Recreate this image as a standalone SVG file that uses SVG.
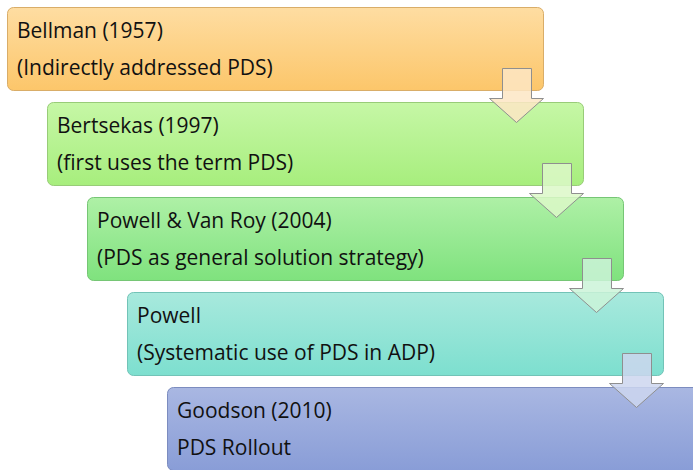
<svg xmlns="http://www.w3.org/2000/svg" width="693" height="470" viewBox="0 0 693 470">
<defs>
<linearGradient id="g1" x1="0" y1="0" x2="0" y2="1"><stop offset="0" stop-color="#fedda2"/><stop offset="1" stop-color="#fcc66a"/></linearGradient>
<linearGradient id="g2" x1="0" y1="0" x2="0" y2="1"><stop offset="0" stop-color="#c6f7a6"/><stop offset="1" stop-color="#a7ee7d"/></linearGradient>
<linearGradient id="g3" x1="0" y1="0" x2="0" y2="1"><stop offset="0" stop-color="#aef0a6"/><stop offset="1" stop-color="#7fe27e"/></linearGradient>
<linearGradient id="g4" x1="0" y1="0" x2="0" y2="1"><stop offset="0" stop-color="#a8e9dd"/><stop offset="1" stop-color="#7ddfcf"/></linearGradient>
<linearGradient id="g5" x1="0" y1="0" x2="0" y2="1"><stop offset="0" stop-color="#a9b7e2"/><stop offset="1" stop-color="#899dd7"/></linearGradient>
</defs>
<style>
.box{stroke-width:1}
text{font-family:"Open Sans","Noto Sans",sans-serif;font-size:21px;fill:#111}
.arr{stroke:#8f8f8f;stroke-width:1;fill-opacity:0.85}
</style>
<rect width="693" height="470" fill="#fff"/>
<g id="n1"><rect class="box" x="7.5" y="7.5" width="536" height="83" rx="6" fill="url(#g1)" stroke="#d9ad68"/><text x="17" y="38">Bellman (1957)</text><text x="17" y="75">(Indirectly addressed PDS)</text></g>
<g id="n2"><rect class="box" x="47.5" y="102.5" width="536" height="83" rx="6" fill="url(#g2)" stroke="#98cc78"/><text x="57" y="133">Bertsekas (1997)</text><text x="57" y="170">(first uses the term PDS)</text></g>
<g id="n3"><rect class="box" x="87.5" y="197.5" width="536" height="83" rx="6" fill="url(#g3)" stroke="#76c675"/><text x="97" y="228">Powell &amp; Van Roy (2004)</text><text x="97" y="265">(PDS as general solution strategy)</text></g>
<g id="n4"><rect class="box" x="127.5" y="292.5" width="536" height="83" rx="6" fill="url(#g4)" stroke="#72c3b7"/><text x="137" y="323">Powell</text><text x="137" y="360">(Systematic use of PDS in ADP)</text></g>
<g id="n5"><rect class="box" x="167.5" y="387.5" width="536" height="83" rx="6" fill="url(#g5)" stroke="#7c8cbf"/><text x="177" y="418">Goodson (2010)</text><text x="177" y="455">PDS Rollout</text></g>
<g id="connectors">
<path class="arr" fill="#fde6c4" d="M502.5 68.5H531.5V98.5H543.5L516.5 122.5L489.5 98.5H502.5Z"/>
<path class="arr" fill="#dcf8c8" d="M542.5 163.5H571.5V193.5H583.5L556.5 217.5L529.5 193.5H542.5Z"/>
<path class="arr" fill="#cbf3d8" d="M582.5 258.5H611.5V288.5H623.5L596.5 312.5L569.5 288.5H582.5Z"/>
<path class="arr" fill="#ccd6ee" d="M622.5 353.5H651.5V383.5H663.5L636.5 407.5L609.5 383.5H622.5Z"/>
</g>
</svg>
